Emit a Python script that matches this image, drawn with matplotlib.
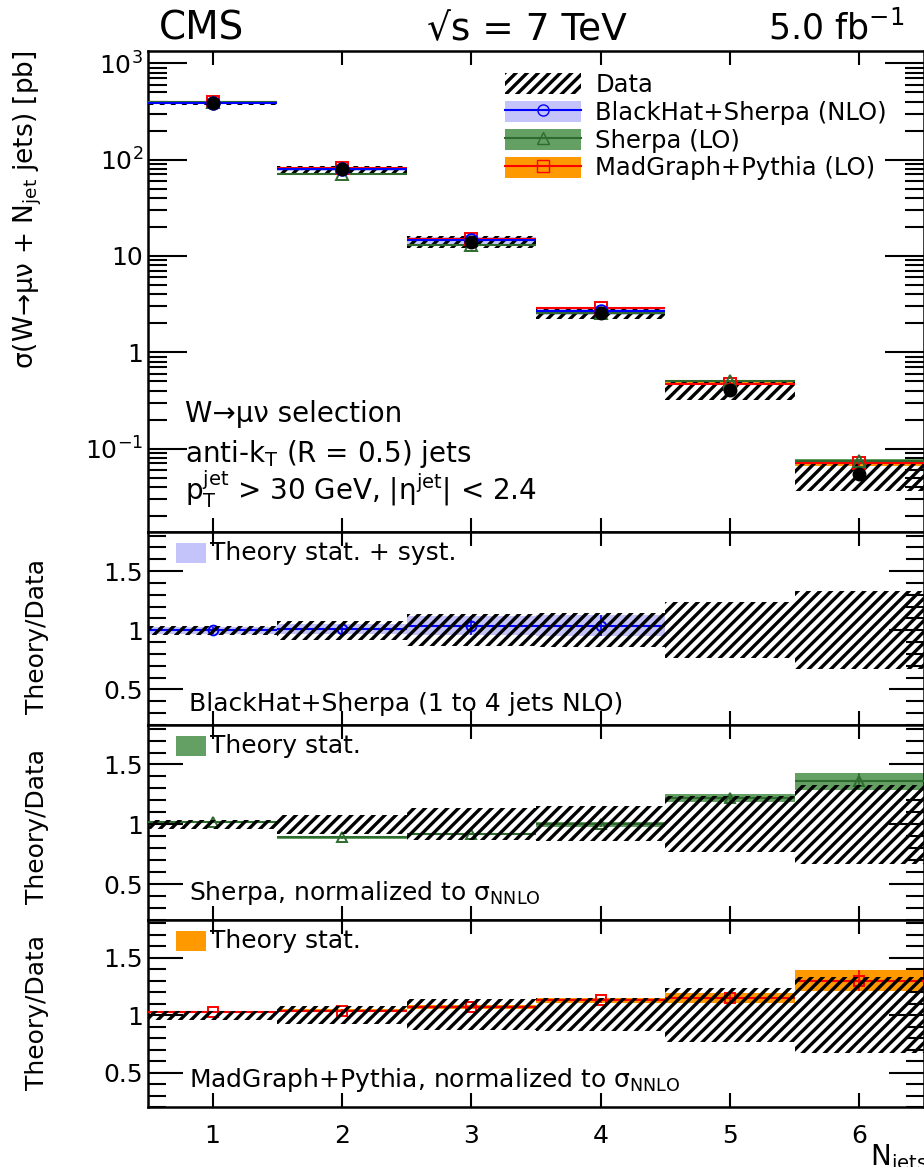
import matplotlib
matplotlib.use("Agg")
import matplotlib.pyplot as plt
import numpy as np
from matplotlib.patches import Patch, Rectangle
from matplotlib.lines import Line2D
from matplotlib.ticker import FixedLocator, FixedFormatter, LogLocator, MultipleLocator, NullFormatter

plt.rcParams['font.family'] = ['DejaVu Sans']
plt.rcParams['mathtext.fontset'] = 'dejavusans'
plt.rcParams['hatch.linewidth'] = 2.4

# exclusive jet multiplicity
njet = np.array([1, 2, 3, 4, 5, 6])
xsec_data = np.array([385.0, 79.0, 14.0, 2.55, 0.41, 0.054])   # pb
data_lo = np.array([0.96, 0.92, 0.87, 0.86, 0.77, 0.67])       # relative uncertainty band
data_hi = np.array([1.04, 1.08, 1.14, 1.15, 1.24, 1.33])

# theory / data
bh_n = np.array([1, 2, 3, 4])
bh_ratio = np.array([1.00, 1.01, 1.04, 1.04])
bh_err = np.array([0.03, 0.04, 0.08, 0.09])
sh_ratio = np.array([1.02, 0.89, 0.92, 1.00, 1.22, 1.36])
sh_err = np.array([0.01, 0.01, 0.01, 0.02, 0.03, 0.07])
mg_ratio = np.array([1.03, 1.04, 1.07, 1.13, 1.15, 1.30])
mg_err = np.array([0.01, 0.01, 0.02, 0.02, 0.04, 0.09])

BLUE, BLUE_BAND = '#0000ff', '#c4c4fa'
GREEN, GREEN_BAND = '#2e6b2e', '#64a064'
RED, ORANGE = '#ff0000', '#ff9900'

W, H = 924, 1167
fig = plt.figure(figsize=(W / 100, H / 100), dpi=100)


def fx(x):
    return x / W


def fy(y):
    return 1 - y / H


def panel(top, bottom):
    return fig.add_axes([fx(148), fy(bottom), 1 - fx(148), (bottom - top) / H])


ax0 = panel(51, 532)
ax1 = panel(532, 725)
ax2 = panel(725, 920)
ax3 = panel(920, 1107)


def draw_theory(ax, n, val, err, line, band, marker, ms, zo=2):
    ax.bar(n, 2 * err, bottom=val - err, width=1.0, color=band, lw=0, zorder=zo)
    ax.hlines(val, n - 0.5, n + 0.5, color=line, lw=1.5, zorder=zo + 2)
    ax.vlines(n, val - err, val + err, color=line, lw=1.2, zorder=zo + 2)
    ax.plot(n, val, marker, ms=ms, mfc='none', mec=line, mew=1.4, ls='none', zorder=zo + 3)


# --- cross section panel
draw_theory(ax0, njet, xsec_data * mg_ratio, xsec_data * mg_err, RED, ORANGE, 's', 9)
draw_theory(ax0, njet, xsec_data * sh_ratio, xsec_data * sh_err, GREEN, GREEN_BAND, '^', 9)
draw_theory(ax0, bh_n, xsec_data[:4] * bh_ratio, xsec_data[:4] * bh_err, BLUE, BLUE_BAND, 'o', 9)
ax0.bar(njet, xsec_data * (data_hi - data_lo), bottom=xsec_data * data_lo, width=1.0,
        fill=False, hatch='///', edgecolor='k', lw=0, zorder=3)
ax0.plot(njet, xsec_data, 'o', color='k', ms=9, zorder=8)

ax0.set_yscale('log')
ax0.set_ylim(0.0136, 1340)
ax0.yaxis.set_major_locator(FixedLocator([0.1, 1, 10, 100, 1000]))
ax0.yaxis.set_major_formatter(FixedFormatter(['10$^{-1}$', '1', '10', '10$^2$', '10$^3$']))
ax0.yaxis.set_minor_locator(LogLocator(base=10, subs=np.arange(2, 10)))
ax0.yaxis.set_minor_formatter(NullFormatter())

handles = [
    Patch(facecolor='white', edgecolor='k', hatch='///', lw=0),
    (Patch(facecolor=BLUE_BAND, lw=0), Line2D([], [], color=BLUE, marker='o', mfc='none', ms=8, lw=1.5)),
    (Patch(facecolor=GREEN_BAND, lw=0), Line2D([], [], color=GREEN, marker='^', mfc='none', ms=8, lw=1.5)),
    (Patch(facecolor=ORANGE, lw=0), Line2D([], [], color=RED, marker='s', mfc='none', ms=8, lw=1.5)),
]
labels = ['Data', 'BlackHat+Sherpa (NLO)', 'Sherpa (LO)', 'MadGraph+Pythia (LO)']
ax0.legend(handles, labels, loc='upper left', bbox_to_anchor=(0.448, 0.975), frameon=False,
           fontsize=17.5, handlelength=3.1, handleheight=0.95, labelspacing=0.16, handletextpad=0.6,
           borderaxespad=0)

ax0.text(fx(185), fy(422), 'W→μν selection', transform=fig.transFigure, fontsize=20)
ax0.text(fx(185), fy(462), 'anti-k$_{\\mathrm{T}}$ (R = 0.5) jets', transform=fig.transFigure, fontsize=20)
ax0.text(fx(185), fy(500), 'p$_{\\mathrm{T}}^{\\mathrm{jet}}$ > 30 GeV, |η$^{\\mathrm{jet}}$| < 2.4',
         transform=fig.transFigure, fontsize=20)

# --- ratio panels
ratio_panels = [
    (ax1, bh_n, bh_ratio, bh_err, BLUE, BLUE_BAND, 'o', 'Theory stat. + syst.',
     'BlackHat+Sherpa (1 to 4 jets NLO)', 532, 711),
    (ax2, njet, sh_ratio, sh_err, GREEN, GREEN_BAND, '^', 'Theory stat.',
     'Sherpa, normalized to σ$_{\\mathrm{NNLO}}$', 725, 900),
    (ax3, njet, mg_ratio, mg_err, RED, ORANGE, 's', 'Theory stat.',
     'MadGraph+Pythia, normalized to σ$_{\\mathrm{NNLO}}$', 920, 1087),
]
for ax, n, val, err, line, band, mk, key, name, top, base in ratio_panels:
    draw_theory(ax, n, val, err, line, band, mk, 7)
    ax.bar(njet, data_hi - data_lo, bottom=data_lo, width=1.0, fill=False, hatch='///',
           edgecolor='k', lw=0, zorder=6)
    ax.set_ylim(0.2, 1.83)
    ax.yaxis.set_major_locator(FixedLocator([0.5, 1.0, 1.5]))
    ax.yaxis.set_major_formatter(FixedFormatter(['0.5', '1', '1.5']))
    ax.yaxis.set_minor_locator(MultipleLocator(0.1))
    ax.tick_params(axis='y', which='major', length=25)
    ax.tick_params(axis='y', which='minor', length=13)
    fig.add_artist(Rectangle((fx(176), fy(top + 31)), fx(30), 20 / H, transform=fig.transFigure,
                             color=band, lw=0))
    fig.text(fx(210), fy(top + 21), key, fontsize=18, va='center')
    fig.text(fx(189), fy(base), name, fontsize=18, va='baseline')
    fig.text(fx(37), fy(base + 1 - 75), 'Theory/Data', fontsize=18, rotation=90,
             ha='center', va='center')

for ax in (ax0, ax1, ax2, ax3):
    ax.set_xlim(0.5, 6.5)
    ax.xaxis.set_major_locator(FixedLocator(njet))
    ax.tick_params(which='both', direction='in', left=True, right=True, top=True, bottom=True,
                   width=1.5, labelsize=18)
    ax.tick_params(axis='x', which='major', length=10)
    for s in ax.spines.values():
        s.set_linewidth(1.8)
    if ax is not ax3:
        ax.tick_params(axis='x', labelbottom=False)
ax0.tick_params(axis='y', which='major', length=28)
ax0.tick_params(axis='y', which='minor', length=14)
ax3.tick_params(axis='x', pad=12)

fig.text(fx(28), fy(210), 'σ(W→μν + N$_{\\mathrm{jet}}$ jets) [pb]', fontsize=19, rotation=90,
         ha='center', va='center')
fig.text(fx(870), fy(1165), 'N$_{\\mathrm{jets}}$', fontsize=20, va='baseline')

fig.text(fx(159), fy(40), 'CMS', fontsize=28, va='baseline')
fig.text(fx(527), fy(40), '√s = 7 TeV', fontsize=27, va='baseline', ha='center')
fig.text(fx(904), fy(40), '5.0 fb$^{-1}$', fontsize=25, va='baseline', ha='right')

fig.savefig('out.png', dpi=100)
